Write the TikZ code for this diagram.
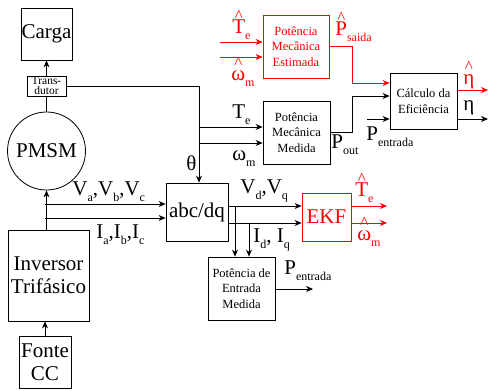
\documentclass[tikz,border=0pt]{standalone}
\usepackage{fontspec}
\IfFontExistsTF{LiberationSerif-Regular.ttf}{%
  \setmainfont{LiberationSerif}[Extension=.ttf, UprightFont=*-Regular, BoldFont=*-Bold,
    ItalicFont=*-Italic, BoldItalicFont=*-BoldItalic]}{%
  \setmainfont{Liberation Serif}}
\usetikzlibrary{arrows.meta}

\newcommand\sub[1]{\raisebox{-6pt}{\fontsize{12}{12}\selectfont #1}}
\newcommand\hatted[1]{\ooalign{#1\cr\hidewidth\raisebox{11.5pt}{\fontsize{17}{17}\selectfont\textasciicircum}\hidewidth\cr}}

\begin{document}
\begin{tikzpicture}[x=1pt, y=-1pt, >={Stealth[length=7pt,width=6pt]}, line width=0.8pt,
    blk/.style={rectangle, draw, inner sep=0pt, align=center, font=\fontsize{21}{23}\selectfont},
    sml/.style={rectangle, draw, inner sep=0pt, align=center, font=\fontsize{12.5}{15.5}\selectfont, minimum width=67pt, minimum height=63pt},
    lbl/.style={anchor=base west, inner sep=0pt, font=\fontsize{21}{23}\selectfont}]
    \useasboundingbox (0,0) rectangle (488,391);

    % left column
    \node (carga) [blk, minimum width=51pt, minimum height=52pt] at (46.5,34) {Carga};
    \node (trans) [blk, minimum width=39pt, minimum height=20pt, font=\fontsize{11.5}{10}\selectfont] at (46.5,86) {Trans-\\dutor};
    \node (pmsm) [circle, draw, inner sep=0pt, minimum size=78pt, font=\fontsize{21}{23}\selectfont] at (46.5,151) {PMSM};
    \node (inv) [blk, minimum width=81pt, minimum height=91pt] at (48.5,275.5) {Inversor\\Trifásico};
    \node (fonte) [blk, minimum width=52pt, minimum height=52pt] at (45,362) {Fonte\\CC};

    % middle and right blocks
    \node (abc) [blk, minimum width=62pt, minimum height=58pt] at (197,212) {abc/dq};
    \node (ekf) [blk, red, minimum width=49pt, minimum height=48pt] at (326.5,217) {EKF};
    \node (ent) [sml] at (241.5,288.5) {Potência de\\Entrada\\Medida};
    \node (med) [sml] at (296.5,132.5) {Potência\\Mecânica\\Medida};
    \node (est) [sml, red, minimum width=66pt] at (296,46.5) {Potência\\Mecânica\\Estimada};
    \node (calc) [sml, minimum height=56pt] at (423.5,101) {Cálculo da\\Eficiência};

    % helper points
    \coordinate (th) at (199,86);
    \coordinate (tb) at (199,127);
    \coordinate (wb) at (199,143);
    \coordinate (va) at (45,204);
    \coordinate (ia) at (45,218);
    \coordinate (vd) at (228,206);
    \coordinate (id) at (228,223);
    \coordinate (vdrop) at (235,206);
    \coordinate (idrop) at (249,223);
    \coordinate (teo) at (387,206);
    \coordinate (wmo) at (387,223);
    \coordinate (peo) at (313,289);
    \coordinate (tei) at (220,42);
    \coordinate (wmi) at (220,57);
    \coordinate (ps) at (352,83);
    \coordinate (pm) at (352,96);
    \coordinate (pin) at (367,119);
    \coordinate (etah) at (488,90);
    \coordinate (eta) at (488,119);

    % connectors
    \draw[->] (trans.north -| carga) -- (carga.south);
    \draw (trans.south) -- (pmsm.north);
    \draw[->] (inv.north -| pmsm) -- (pmsm.south);
    \draw[->] (fonte.north) -- (fonte.north |- inv.south);
    \draw[->] (trans.east) -- (th) -- (th |- abc.north);
    \draw[->] (tb) -- (tb -| med.west);
    \draw[->] (wb) -- (wb -| med.west);
    \draw[->] (va) -- (va -| abc.west);
    \draw[->] (ia) -- (ia -| abc.west);
    \draw[->] (vd) -- (vd -| ekf.west);
    \draw[->] (id) -- (id -| ekf.west);
    \draw[->] (vdrop) -- (vdrop |- ent.north);
    \draw[->] (idrop) -- (idrop |- ent.north);
    \draw[->] (ent.east |- peo) -- (peo);
    \draw[->, red] (teo -| ekf.east) -- (teo);
    \draw[->, red] (wmo -| ekf.east) -- (wmo);
    \draw[->, red] (tei) -- (tei -| est.west);
    \draw[->, red] (wmi) -- (wmi -| est.west);
    \draw[->, red] (est.east) -| (ps) -- (ps -| calc.west);
    \draw[->] (med.east) -| (pm) -- (pm -| calc.west);
    \draw[->] (pin) -- (pin -| calc.west);
    \draw[->, red] (etah -| calc.east) -- (etah);
    \draw[->] (eta -| calc.east) -- (eta);

    % signal labels
    \node (lva) [lbl] at (72,195) {V\sub{a},V\sub{b},V\sub{c}};
    \node (lia) [lbl] at (96,238) {I\sub{a},I\sub{b},I\sub{c}};
    \node (lth) [lbl] at (186,170) {θ};
    \node (lvd) [lbl] at (240,193) {V\sub{d},V\sub{q}};
    \node (lid) [lbl] at (253,242) {I\sub{d}, I\sub{q}};
    \node (lte) [lbl] at (232,118) {T\sub{e}};
    \node (lwm) [lbl] at (232,160) {ω\sub{m}};
    \node (lpo) [lbl] at (331,148) {P\sub{out}};
    \node (lpi) [lbl] at (366,140) {P\sub{entrada}};
    \node (lpe) [lbl] at (284,274) {P\sub{entrada}};
    \node (lte2) [lbl, red] at (355,196) {\hatted{T}\sub{e}};
    \node (lwm2) [lbl, red] at (357,240) {\hatted{ω}\sub{m}};
    \node (lte3) [lbl, red] at (232,33) {\hatted{T}\sub{e}};
    \node (lwm3) [lbl, red] at (231,80) {\hatted{ω}\sub{m}};
    \node (lps) [lbl, red] at (335,35) {\hatted{P}\sub{saida}};
    \node (leh) [lbl, red] at (463,84) {\hatted{η}};
    \node (let) [lbl] at (463,110) {η};
\end{tikzpicture}
\end{document}
